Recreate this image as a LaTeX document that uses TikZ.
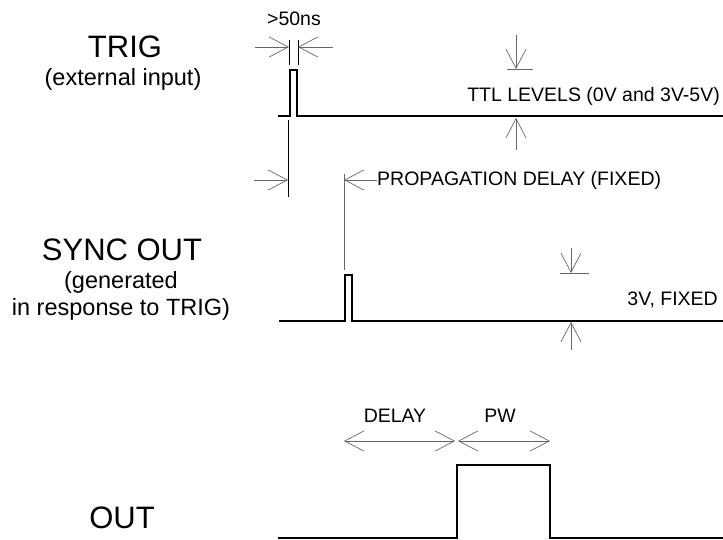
\documentclass[tikz,border=0pt]{standalone}
\usepackage{fontspec}
\setmainfont{Liberation Sans}
\usetikzlibrary{arrows.meta,calc}

\begin{document}
\begin{tikzpicture}[x=1pt, y=-1pt, sig/.style={line width=1.6pt, line join=miter}, tick/.style={line width=0.8pt}, dim/.style={gray!80!black, line width=0.7pt, -{Straight Barb[length=19pt,width=20pt]}}, dimdim/.style={dim, {Straight Barb[length=19pt,width=20pt]}-{Straight Barb[length=19pt,width=20pt]}}, big/.style={font=\fontsize{31}{33}\selectfont, inner sep=0, anchor=base}, mid/.style={font=\fontsize{23.5}{26}\selectfont, inner sep=0, anchor=base}, small/.style={font=\fontsize{19.5}{22}\selectfont, inner sep=0}]
\useasboundingbox (0,0) rectangle (723,539);
% labels on the left
\node[big] (trig) at (125,57) {TRIG};
\node[mid] (trigsub) at (123,85) {(external input)};
\node[big] (sync) at (122,260) {SYNC OUT};
\node[mid] (syncsub1) at (121,288) {(generated};
\node[mid] (syncsub2) at (121,315) {in response to TRIG)};
\node[big] (out) at (122,528) {OUT};
% waveforms
\draw[sig] (278,116) -- (290,116) -- (290,70) -- (297,70) -- (297,116) -- (723,116);
\draw[sig] (279,321) -- (345,321) -- (345,275) -- (352,275) -- (352,321) -- (723,321);
\draw[sig] (278,538) -- (457,538) -- (457,465) -- (550,465) -- (550,538) -- (723,538);
% pulse width
\node[small, anchor=base] (ns) at (294,25) {>50ns};
\coordinate (w1) at (289,47);
\coordinate (w2) at (298,47);
\coordinate (w1a) at (255,47);
\coordinate (w2a) at (333,47);
\draw[tick] (289,40) -- (289,65);
\draw[tick] (298,40) -- (298,65);
\path (w1a) edge[dim] (w1)
(w2a) edge[dim] (w2);
% ttl levels
\node[small, anchor=base east] (ttl) at (720,101) {TTL LEVELS (0V and 3V-5V)};
\coordinate (ttltop) at (516,69);
\coordinate (ttlbot) at (516,118);
\draw[dim, -] (507,69) -- (533,69);
\path (516,35) edge[dim] (ttltop)
(516,150) edge[dim] (ttlbot);
% propagation delay
\coordinate (p1) at (288,180);
\coordinate (p2) at (344,180);
\draw[tick] (288,120) -- (288,197);
\draw[dim, -] (344,174) -- (344,270);
\node[small, anchor=west] (prop) at (377,180) {PROPAGATION DELAY (FIXED)};
\path (254,180) edge[dim] (p1)
(prop.west) edge[dim] (p2);
% sync level
\node[small, anchor=base east] (fixed) at (718,305) {3V, FIXED};
\coordinate (s1) at (571,273);
\coordinate (s2) at (571,322);
\draw[dim, -] (560,273) -- (589,273);
\path (571,248) edge[dim] (s1)
(571,350) edge[dim] (s2);
% delay and pw
\node[small, anchor=base] (delay) at (395,422) {DELAY};
\node[small, anchor=base] (pw) at (500,422) {PW};
\coordinate (d1) at (344,441);
\coordinate (d2) at (455,441);
\coordinate (d3) at (458,441);
\coordinate (d4) at (550,441);
\path (d1) edge[dimdim] (d2)
(d3) edge[dimdim] (d4);
\end{tikzpicture}
\end{document}
